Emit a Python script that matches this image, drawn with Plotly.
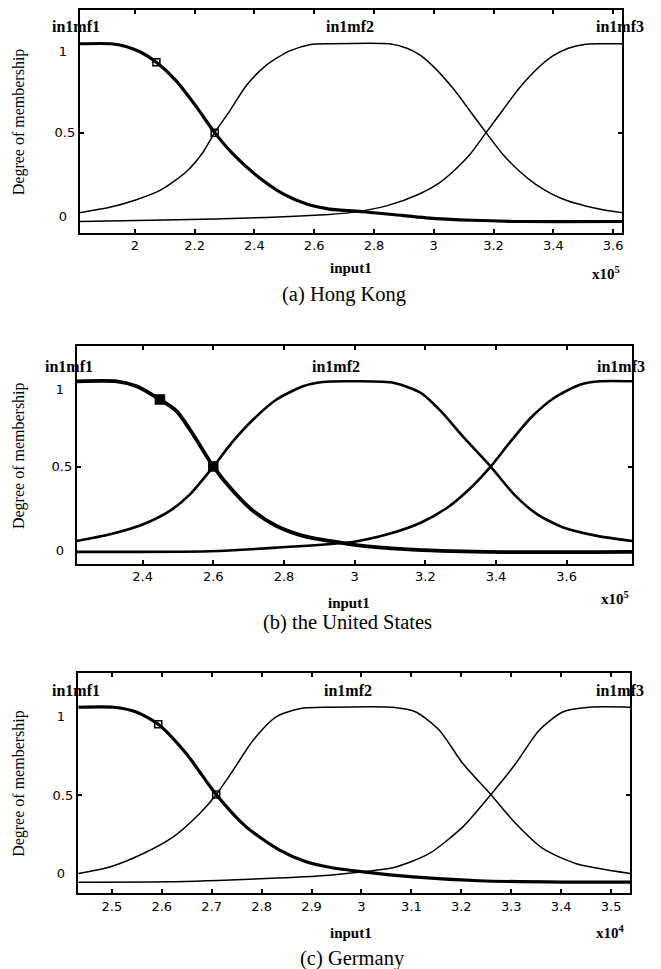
import plotly.graph_objects as go

# The page body has an 8px default margin, so the figure is sized and placed to compensate.
OFF = 8
W, H = 661 - OFF, 969 - OFF

# ---------------- data (x in units of 10^5 / 10^4) ----------------
# (a) Hong Kong
a_mf1_x = [1.816, 1.92, 1.97, 2.017, 2.072, 2.139, 2.206, 2.267, 2.328, 2.406, 2.496, 2.575, 2.651, 2.763, 2.87, 2.974, 3.13, 3.3, 3.63]
a_mf1_y = [1.0, 1.0, 0.985, 0.955, 0.896, 0.79, 0.645, 0.5, 0.38, 0.26, 0.155, 0.098, 0.07, 0.055, 0.038, 0.021, 0.007, 0.0, 0.0]
a_mf2_x = [1.816, 1.916, 2.0, 2.084, 2.172, 2.228, 2.267, 2.317, 2.373, 2.44, 2.518, 2.585, 2.65, 2.852, 2.91, 2.952, 3.0, 3.063, 3.12, 3.175, 3.23, 3.286, 3.34, 3.397, 3.45, 3.508, 3.57, 3.63]
a_mf2_y = [0.05, 0.08, 0.12, 0.175, 0.28, 0.39, 0.5, 0.621, 0.765, 0.88, 0.96, 0.995, 1.0, 1.0, 0.975, 0.939, 0.87, 0.752, 0.625, 0.5, 0.38, 0.284, 0.21, 0.153, 0.115, 0.087, 0.065, 0.05]
a_mf3_x = [1.816, 2.1, 2.44, 2.65, 2.72, 2.842, 2.952, 3.019, 3.064, 3.12, 3.175, 3.23, 3.287, 3.34, 3.397, 3.45, 3.508, 3.55, 3.63]
a_mf3_y = [0.0, 0.008, 0.023, 0.04, 0.05, 0.088, 0.155, 0.218, 0.28, 0.375, 0.5, 0.625, 0.752, 0.85, 0.93, 0.975, 0.997, 1.0, 1.0]
a_mark_x = [2.072, 2.267]
a_mark_y = [0.896, 0.5]
a_ticks = [2.0, 2.2, 2.4, 2.6, 2.8, 3.0, 3.2, 3.4, 3.6]
a_ticktext = ["2", "2.2", "2.4", "2.6", "2.8", "3", "3.2", "3.4", "3.6"]

# (b) the United States
b_mf1_x = [2.214, 2.327, 2.383, 2.449, 2.496, 2.543, 2.6, 2.656, 2.713, 2.779, 2.854, 2.929, 3.005, 3.14, 3.375, 3.785]
b_mf1_y = [1.0, 1.0, 0.971, 0.893, 0.825, 0.688, 0.5, 0.357, 0.24, 0.152, 0.094, 0.064, 0.04, 0.016, 0.0, 0.0]
b_mf2_x = [2.214, 2.308, 2.402, 2.477, 2.534, 2.6, 2.656, 2.713, 2.779, 2.854, 2.91, 3.005, 3.112, 3.187, 3.244, 3.31, 3.385, 3.451, 3.517, 3.592, 3.686, 3.785]
b_mf2_y = [0.064, 0.103, 0.162, 0.24, 0.337, 0.5, 0.649, 0.776, 0.893, 0.971, 0.996, 1.0, 0.99, 0.932, 0.825, 0.668, 0.5, 0.337, 0.22, 0.142, 0.094, 0.064]
b_mf3_x = [2.214, 2.59, 2.779, 2.999, 3.093, 3.187, 3.262, 3.319, 3.385, 3.442, 3.498, 3.564, 3.639, 3.696, 3.785]
b_mf3_y = [0.0, 0.004, 0.025, 0.06, 0.103, 0.171, 0.259, 0.357, 0.5, 0.649, 0.785, 0.902, 0.981, 1.0, 1.0]
b_mark_x = [2.449, 2.6]
b_mark_y = [0.893, 0.5]
b_ticks = [2.4, 2.6, 2.8, 3.0, 3.2, 3.4, 3.6]
b_ticktext = ["2.4", "2.6", "2.8", "3", "3.2", "3.4", "3.6"]

# (c) Germany
c_mf1_x = [2.433, 2.503, 2.549, 2.593, 2.649, 2.709, 2.769, 2.836, 2.889, 2.936, 3.003, 3.103, 3.236, 3.403, 3.538]
c_mf1_y = [1.0, 1.0, 0.973, 0.903, 0.735, 0.501, 0.316, 0.183, 0.116, 0.085, 0.059, 0.03, 0.008, 0.0, 0.0]
c_mf2_x = [2.433, 2.496, 2.563, 2.623, 2.676, 2.709, 2.743, 2.783, 2.829, 2.876, 2.936, 3.063, 3.109, 3.156, 3.203, 3.259, 3.309, 3.363, 3.429, 3.538]
c_mf2_y = [0.05, 0.087, 0.164, 0.259, 0.393, 0.5, 0.64, 0.811, 0.945, 0.992, 1.0, 1.0, 0.973, 0.869, 0.678, 0.501, 0.335, 0.193, 0.107, 0.05]
c_mf3_x = [2.433, 2.609, 2.809, 2.936, 3.003, 3.069, 3.136, 3.203, 3.259, 3.309, 3.356, 3.403, 3.456, 3.538]
c_mf3_y = [0.0, 0.002, 0.021, 0.04, 0.059, 0.087, 0.164, 0.316, 0.5, 0.678, 0.869, 0.973, 1.0, 1.0]
c_mark_x = [2.593, 2.709]
c_mark_y = [0.903, 0.501]
c_ticks = [2.5, 2.6, 2.7, 2.8, 2.9, 3.0, 3.1, 3.2, 3.3, 3.4, 3.5]
c_ticktext = ["2.5", "2.6", "2.7", "2.8", "2.9", "3", "3.1", "3.2", "3.3", "3.4", "3.5"]

mf_names = ["in1mf1", "in1mf2", "in1mf3"]
captions = ["(a) Hong Kong", "(b) the United States", "(c) Germany"]
exponents = ["5", "5", "4"]

# ---------------- layout helpers (page pixels -> paper) ----------------
def px_x(p):
    return min(1.0, max(0.0, (p - OFF) / W))

def px_y(p):
    return min(1.0, max(0.0, 1 - (p - OFF) / H))

SANS = "DejaVu Sans"
SERIF = "Liberation Serif"

panels = [
    dict(mf=[(a_mf1_x, a_mf1_y), (a_mf2_x, a_mf2_y), (a_mf3_x, a_mf3_y)], mark=(a_mark_x, a_mark_y),
         ticks=a_ticks, ticktext=a_ticktext, xr=[1.816, 3.63], yr=[-0.062, 1.19],
         box=(80, 8, 623, 231), lw=(3.2, 1.5), msym="square-open", msize=7,
         ylab=[0.031, 0.5, 0.958], lab_px=[76, 351, 621], lab_py=25,
         input_xy=(352, 267), exp_xy=(623, 272), cap_xy=(345, 293)),
    dict(mf=[(b_mf1_x, b_mf1_y), (b_mf2_x, b_mf2_y), (b_mf3_x, b_mf3_y)], mark=(b_mark_x, b_mark_y),
         ticks=b_ticks, ticktext=b_ticktext, xr=[2.214, 3.785], yr=[-0.07, 1.205],
         box=(77, 345, 633, 563), lw=(3.8, 2.6), msym="square", msize=9,
         ylab=[0.01, 0.5, 0.953], lab_px=[69, 337, 622], lab_py=365,
         input_xy=(350, 602), exp_xy=(632, 597), cap_xy=(348, 622)),
    dict(mf=[(c_mf1_x, c_mf1_y), (c_mf2_x, c_mf2_y), (c_mf3_x, c_mf3_y)], mark=(c_mark_x, c_mark_y),
         ticks=c_ticks, ticktext=c_ticktext, xr=[2.432, 3.538], yr=[-0.063, 1.198],
         box=(78, 672, 631, 893), lw=(3.2, 1.5), msym="square-open", msize=7,
         ylab=[0.05, 0.497, 0.949], lab_px=[76, 349, 621], lab_py=690,
         input_xy=(352, 933), exp_xy=(628, 932), cap_xy=(353, 958)),
]

fig = go.Figure()
layout = dict(width=W, height=H, margin=dict(l=0, r=0, t=0, b=0),
              paper_bgcolor="white", plot_bgcolor="white", showlegend=False)
annotations = []

for i, p in enumerate(panels):
    n = i + 1
    xa = "x" if n == 1 else f"x{n}"
    ya = "y" if n == 1 else f"y{n}"
    L, T, R, B = p["box"]
    for k, (xs, ys) in enumerate(p["mf"]):
        fig.add_trace(go.Scatter(x=xs, y=ys, mode="lines", xaxis=xa, yaxis=ya,
                                 line=dict(color="black", width=p["lw"][0] if k == 0 else p["lw"][1],
                                           shape="spline", smoothing=0.7),
                                 hoverinfo="skip"))
    mx, my = p["mark"]
    fig.add_trace(go.Scatter(x=mx, y=my, mode="markers", xaxis=xa, yaxis=ya,
                             marker=dict(symbol=p["msym"], size=p["msize"], color="black",
                                         line=dict(color="black", width=1.5)),
                             hoverinfo="skip"))
    # tick-only overlay axis for the 0.5 marks on left/right
    ova = f"y{n + 3}"
    fig.add_trace(go.Scatter(x=[p["xr"][0]], y=[0.5], mode="markers", xaxis=xa, yaxis=ova,
                             marker=dict(size=1, opacity=0), hoverinfo="skip"))

    xkey = "xaxis" if n == 1 else f"xaxis{n}"
    ykey = "yaxis" if n == 1 else f"yaxis{n}"
    layout[xkey] = dict(domain=[px_x(L), px_x(R)], anchor=ya, range=p["xr"],
                        tickvals=p["ticks"], ticktext=p["ticktext"],
                        ticks="inside", ticklen=4, tickwidth=1.5, tickcolor="black",
                        showline=True, linecolor="black", linewidth=2, mirror="ticks",
                        showgrid=False, zeroline=False,
                        tickfont=dict(family=SANS, size=13, color="black"))
    layout[ykey] = dict(domain=[px_y(B), px_y(T)], anchor=xa, range=p["yr"],
                        tickvals=p["ylab"], ticktext=["0\u00a0\u00a0", "0.5", "1\u00a0\u00a0"],
                        ticks="", showline=True, linecolor="black", linewidth=2, mirror=True,
                        showgrid=False, zeroline=False,
                        tickfont=dict(family=SANS, size=13, color="black"))
    layout[f"yaxis{n + 3}"] = dict(overlaying=ya, matches=ya, anchor=xa, side="left",
                                   tickvals=[0.5], ticks="inside", ticklen=4, tickwidth=1.5,
                                   tickcolor="black", mirror="ticks", showline=False,
                                   showticklabels=False, showgrid=False, zeroline=False)

    for k in range(3):
        annotations.append(dict(x=px_x(p["lab_px"][k]), y=px_y(p["lab_py"]), xref="paper", yref="paper",
                                text=mf_names[k], showarrow=False,
                                font=dict(family=SERIF, size=16, color="black", weight="bold"),
                                xanchor="center", yanchor="middle"))
    annotations.append(dict(x=px_x(19), y=px_y((T + B) / 2), xref="paper", yref="paper",
                            text="Degree of membership", textangle=-90, showarrow=False,
                            font=dict(family=SERIF, size=16, color="black"),
                            xanchor="center", yanchor="middle"))
    ix, iy = p["input_xy"]
    annotations.append(dict(x=px_x(ix), y=px_y(iy), xref="paper", yref="paper",
                            text="input1", showarrow=False,
                            font=dict(family=SERIF, size=15, color="black", weight="bold"),
                            xanchor="center", yanchor="middle"))
    ex, ey = p["exp_xy"]
    annotations.append(dict(x=px_x(ex), y=px_y(ey), xref="paper", yref="paper",
                            text="x10<sup>" + exponents[i] + "</sup>", showarrow=False,
                            font=dict(family=SERIF, size=15, color="black", weight="bold"),
                            xanchor="right", yanchor="middle"))
    cx, cy = p["cap_xy"]
    annotations.append(dict(x=px_x(cx), y=px_y(cy), xref="paper", yref="paper",
                            text=captions[i], showarrow=False,
                            font=dict(family=SERIF, size=20.5, color="black"),
                            xanchor="center", yanchor="middle"))

layout["annotations"] = annotations
fig.update_layout(**layout)
fig.write_html("out.html")
